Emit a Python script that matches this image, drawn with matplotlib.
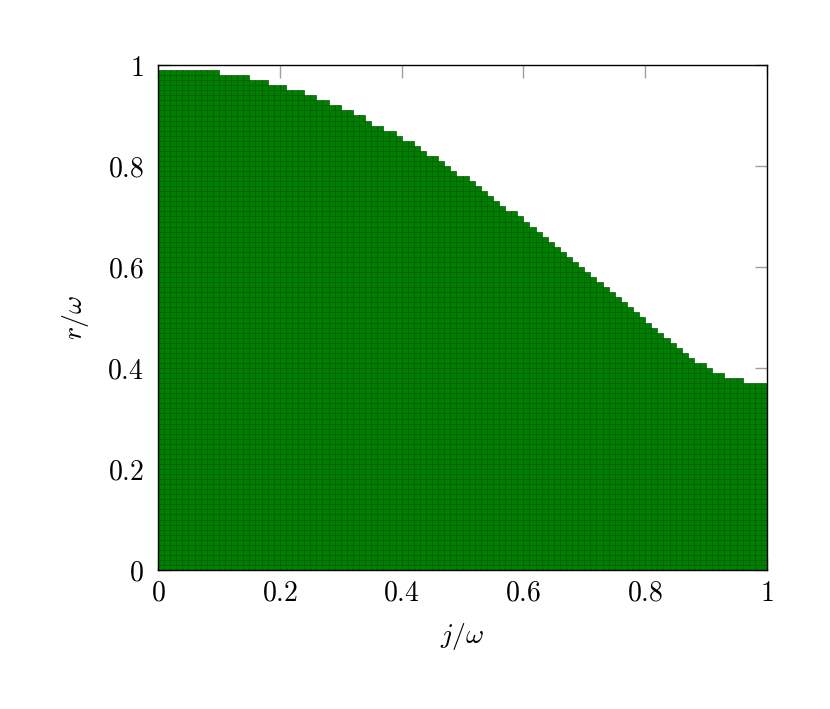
import numpy as np
import matplotlib
matplotlib.use("Agg")
import matplotlib.pyplot as plt
from matplotlib.ticker import FixedLocator, FuncFormatter

plt.rcParams['mathtext.fontset'] = 'cm'
plt.rcParams['font.family'] = ['DejaVu Serif']

# Column heights (r/omega) for each j/omega cell of width 0.01
heights = ([0.99] * 10 + [0.98] * 5 + [0.97] * 3 + [0.96] * 3 + [0.95] * 3 +
           [0.94] * 2 + [0.93] * 2 + [0.92] * 2 + [0.91] * 2 + [0.90] * 2 +
           [0.89] + [0.88] * 2 + [0.87] * 2 + [0.86] + [0.85] * 2 + [0.84] +
           [0.83] + [0.82] * 2 + [0.81] + [0.80] + [0.79] + [0.78] * 2 +
           [0.77, 0.76, 0.75, 0.74, 0.73, 0.72] + [0.71] * 2 +
           [0.70, 0.69, 0.68, 0.67, 0.66, 0.65, 0.64, 0.63, 0.62, 0.61,
            0.60, 0.59, 0.58, 0.57, 0.56, 0.55, 0.54, 0.53, 0.52, 0.51,
            0.50, 0.49, 0.48, 0.47, 0.46, 0.45, 0.44, 0.43, 0.42] +
           [0.41] * 2 + [0.40] + [0.39] * 2 + [0.38] * 3 + [0.37] * 4)
heights = np.array(heights)
cell = 0.01
tick_values = [0, 0.2, 0.4, 0.6, 0.8, 1.0]
tick_labels = ["0", "0.2", "0.4", "0.6", "0.8", "1"]

n_cols = len(heights)
col_left = np.arange(n_cols) * cell
xs, ys = [], []
for x0, h in zip(col_left, heights):
    n_rows = int(round(h / cell))
    rows = np.arange(n_rows) * cell
    xs.extend([x0] * n_rows)
    ys.extend(rows)

fig = plt.figure(figsize=(8.30, 7.09), dpi=100)
ax = fig.add_axes([158 / 830, 1 - 570 / 709, 609 / 830, 505 / 709])

ax.bar(xs, cell, width=cell, bottom=ys, align='edge', color='#008000',
       edgecolor='#005a00', linewidth=0.5, zorder=1)

ax.set_xlim(0, 1)
ax.set_ylim(0, 1)
ax.set_axisbelow(True)
for s in ax.spines.values():
    s.set_linewidth(1.0)
    s.set_color('black')
    s.set_zorder(4)

ax.xaxis.set_major_locator(FixedLocator(tick_values))
ax.yaxis.set_major_locator(FixedLocator(tick_values))
fmt = FuncFormatter(lambda v, p: "$" + tick_labels[tick_values.index(round(v, 1))] + "$")
ax.xaxis.set_major_formatter(fmt)
ax.yaxis.set_major_formatter(fmt)
ax.tick_params(axis='both', which='major', direction='in', length=9,
               width=1.0, color='#a0a0a0', labelsize=20,
               top=True, right=True)
ax.tick_params(axis='x', pad=7)
ax.tick_params(axis='y', pad=10)

ax.set_xlabel(r'$j/\omega$', fontsize=20, labelpad=10)
ax.set_ylabel(r'$r/\omega$', fontsize=20, labelpad=12)

fig.savefig("out.png", dpi=100)
